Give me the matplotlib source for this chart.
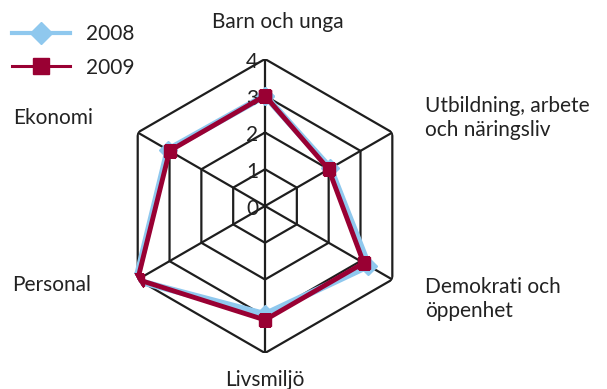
import numpy as np
import matplotlib
matplotlib.use("Agg")
import matplotlib.pyplot as plt
from matplotlib.lines import Line2D

plt.rcParams['font.family'] = ['Lato', 'DejaVu Sans']

categories = ["Barn och unga", "Utbildning, arbete\noch näringsliv", "Demokrati och\nöppenhet",
              "Livsmiljö", "Personal", "Ekonomi"]
values_2008 = [3.0, 2.05, 3.25, 2.95, 4.05, 3.05]
values_2009 = [3.0, 2.0, 3.1, 3.1, 4.0, 3.0]
levels = [0, 1, 2, 3, 4]

blue = "#8fc8ee"
red = "#990033"
grid_col = "#1e1e1e"
text_col = "#222222"
fs = 15


def closed(vals):
    return list(vals) + [vals[0]]


def main():
    fig = plt.figure(figsize=(6.07, 3.89), dpi=100)
    ax = fig.add_axes([0.1944, 0.0925, 0.4844, 0.7558], projection="polar")
    ax.set_theta_offset(np.pi / 2)
    ax.set_theta_direction(-1)

    n = len(categories)
    theta = np.linspace(0, 2 * np.pi, n, endpoint=False)
    th = closed(theta)

    # hexagonal grid instead of the circular default
    ax.grid(False)
    ax.spines["polar"].set_visible(False)
    for lv in levels[1:]:
        ax.plot(th, [lv] * (n + 1), color=grid_col, lw=1.6, zorder=1)
    for t in theta:
        ax.plot([t, t], [0, levels[-1]], color=grid_col, lw=1.6, zorder=1)

    ax.plot(th, closed(values_2008), color=blue, lw=4.8, marker="D", ms=9.5,
            zorder=3, solid_joinstyle="miter")
    ax.plot(th, closed(values_2009), color=red, lw=3.5, marker="s", ms=8.5,
            zorder=4, solid_joinstyle="miter")

    ax.set_ylim(0, 4)
    ax.set_xticks([])
    ax.set_yticks([])

    for lv in levels:
        ax.annotate(str(lv), (0, lv), xytext=(-5, -2), textcoords="offset points",
                    ha="right", va="center", fontsize=fs, color=text_col)

    # category labels around the web
    fig.text(278 / 607, 1 - 22 / 389, categories[0], ha="center", va="center", fontsize=fs, color=text_col)
    fig.text(425 / 607, 1 - 118 / 389, categories[1], ha="left", va="center", fontsize=fs,
             color=text_col, linespacing=1.25)
    fig.text(425 / 607, 1 - 299 / 389, categories[2], ha="left", va="center", fontsize=fs,
             color=text_col, linespacing=1.3)
    fig.text(265 / 607, 1 - 380 / 389, categories[3], ha="center", va="center", fontsize=fs, color=text_col)
    fig.text(12 / 607, 1 - 285 / 389, categories[4], ha="left", va="center", fontsize=fs, color=text_col)
    fig.text(13 / 607, 1 - 118 / 389, categories[5], ha="left", va="center", fontsize=fs, color=text_col)

    handles = [
        Line2D([], [], color=blue, lw=3.0, marker="D", ms=11),
        Line2D([], [], color=red, lw=2.2, marker="s", ms=11),
    ]
    fig.legend(handles, ["2008", "2009"], loc="upper left", bbox_to_anchor=(0.02, 0.938),
               frameon=False, fontsize=fs, handlelength=2.8, handletextpad=0.75,
               labelspacing=0.65, borderpad=0, borderaxespad=0, labelcolor=text_col)

    fig.savefig("out.png", dpi=100)


if __name__ == "__main__":
    main()
